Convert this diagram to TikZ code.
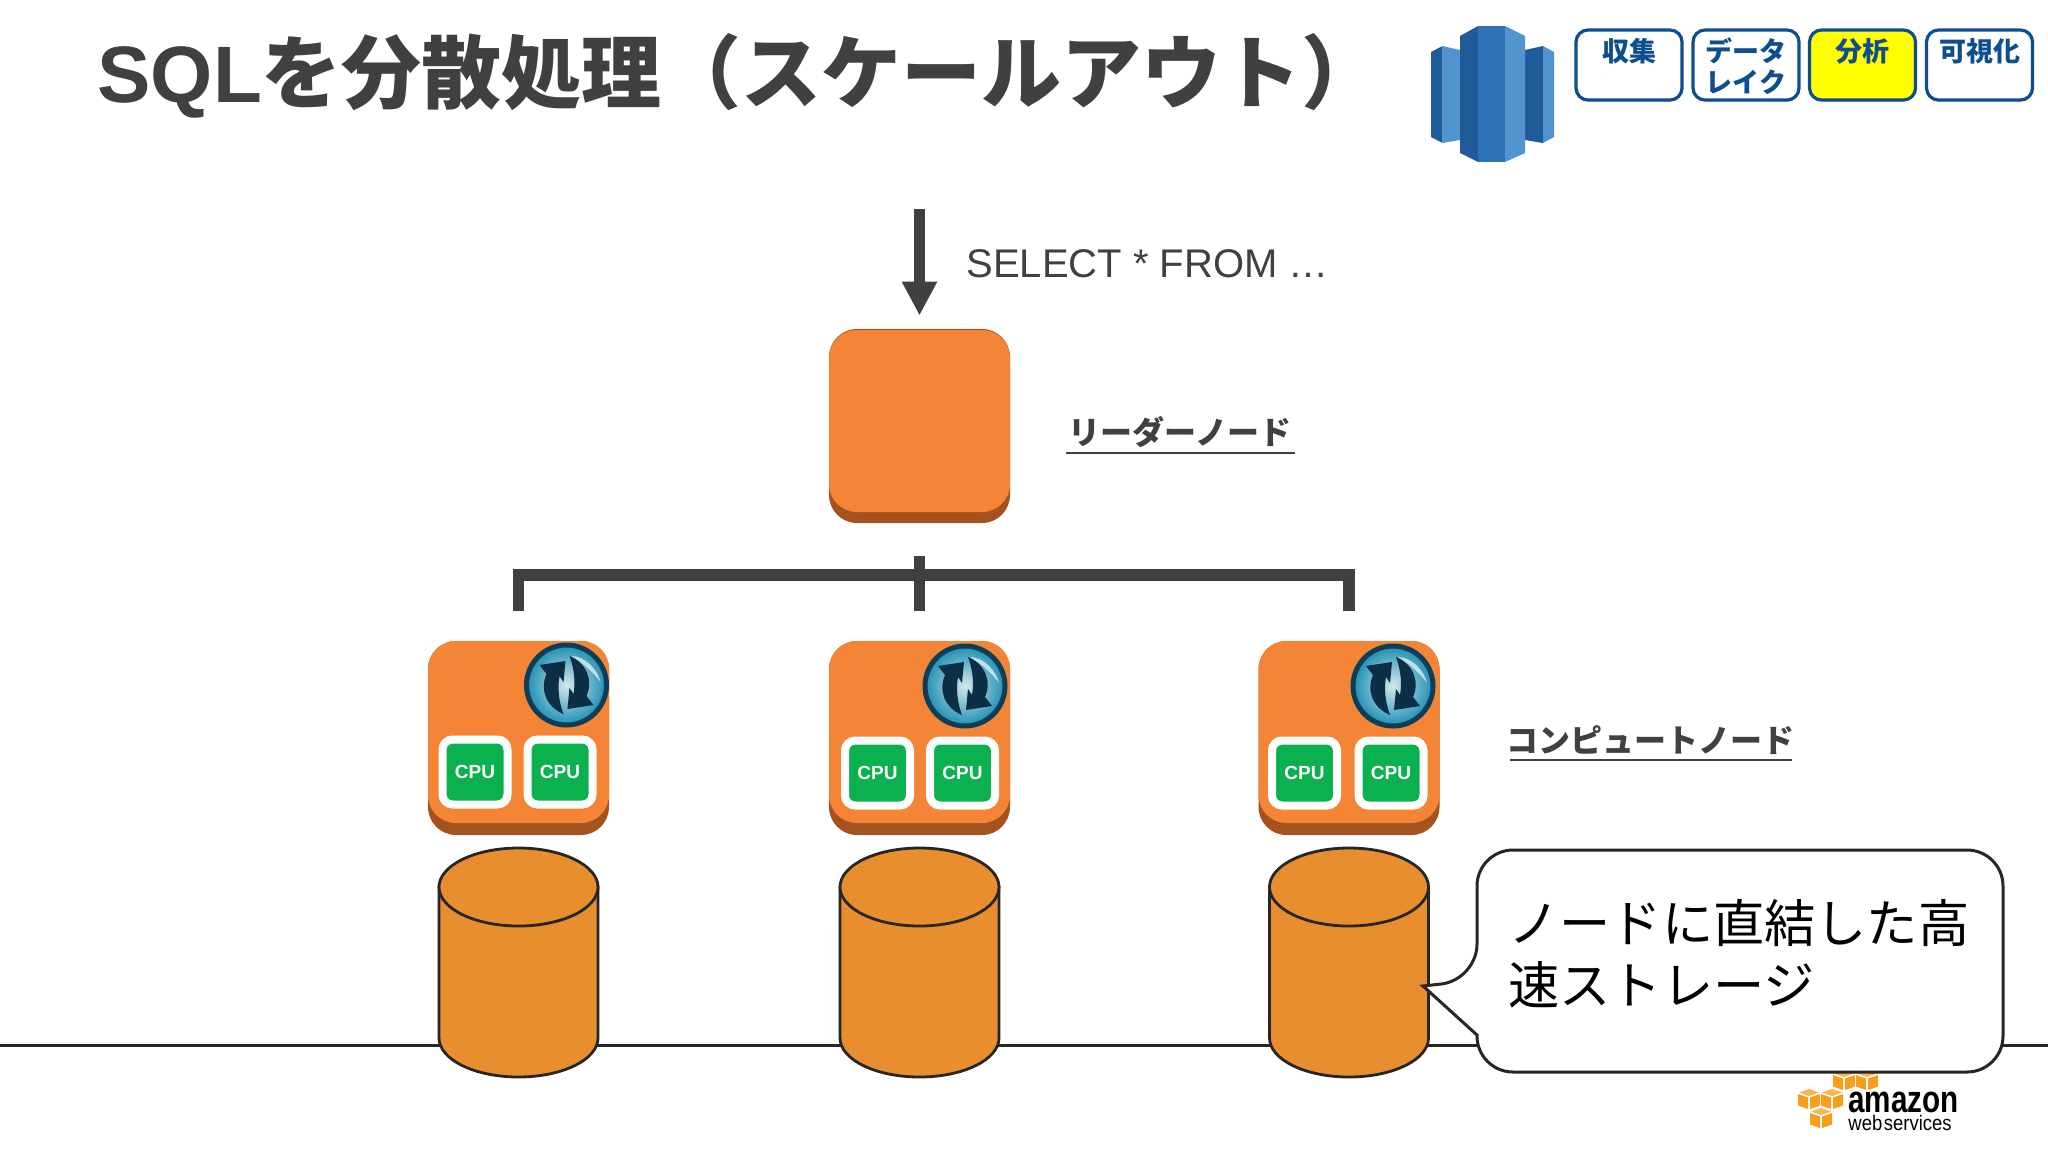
\documentclass[tikz,border=0pt]{standalone}
\usepackage{fontspec}
\setmainfont{Liberation Sans}
\newfontfamily\jp{Noto Sans CJK JP}
\newfontfamily\awsfont[FakeStretch=0.78]{Liberation Sans}
\newfontfamily\awsthin[FakeStretch=0.88]{Liberation Sans}
\usetikzlibrary{arrows.meta,shapes.geometric,shadows,positioning}
\definecolor{inkgrey}{HTML}{404040}
\definecolor{ecface}{HTML}{F58536}
\definecolor{ecbase}{HTML}{A6521F}
\definecolor{cpugreen}{HTML}{0BB04F}
\definecolor{diskfill}{HTML}{E98E2E}
\definecolor{diskline}{HTML}{262626}
\definecolor{tabblue}{HTML}{0F4E8E}
\definecolor{tabyellow}{RGB}{255,255,0}
\definecolor{rsdark}{HTML}{205B99}
\definecolor{rsmid}{HTML}{2E73B8}
\definecolor{rslight}{HTML}{5294CF}
\definecolor{awsorange}{HTML}{F99D1C}
\definecolor{awslight}{HTML}{FDB44B}
\definecolor{syncdark}{HTML}{0D2F45}
\definecolor{syncrim}{HTML}{0C3F57}
\definecolor{syncouter}{HTML}{1F8FB5}
\definecolor{syncinner}{HTML}{D2E9E8}
\tikzset{
  ecbottom/.style={fill=ecbase, rounded corners=14pt, minimum width=90.5pt, minimum height=97pt, inner sep=0},
  ectop/.style={fill=ecface, rounded corners=14pt, minimum width=90.5pt, minimum height=91pt, inner sep=0},
  cpu/.style={fill=cpugreen, draw=white, line width=4pt, rounded corners=5pt, minimum size=32.5pt, inner sep=0,
    text=white, font=\bfseries\fontsize{9.5}{10}\selectfont},
  diskbody/.style={draw=diskline, line width=1.4pt, fill=diskfill},
  disktop/.style={ellipse, draw=diskline, line width=1.4pt, fill=diskfill, minimum width=79.5pt, minimum height=39pt, inner sep=0},
  badge/.style={circle, draw=syncrim, line width=2.5pt, minimum size=40pt, inner sep=0,
    inner color=syncinner, outer color=syncouter},
  tab/.style={draw=tabblue, line width=1.6pt, fill=white, rounded corners=6pt, minimum width=53pt, minimum height=35pt,
    inner sep=0, drop shadow={shadow xshift=0pt, shadow yshift=-1pt, opacity=0.3}},
  tabtext/.style={text=tabblue, font=\jp\bfseries\fontsize{13.5}{15.5}\selectfont, inner sep=0},
  label/.style={text=inkgrey, font=\jp\bfseries\fontsize{16}{18}\selectfont, inner sep=0},
  underl/.style={draw=inkgrey, line width=1.1pt},
  busline/.style={draw=inkgrey, line width=5.7pt},
  sync/.pic={
    \foreach \r in {0,180} {
      \fill[syncdark, rotate=\r] (-3,29) .. controls (-20,22) and (-27,5) .. (-20,-11) -- (-27,-20) -- (-1,-24)
        -- (-3,-3) -- (-7,-9) .. controls (-9,2) and (-8,16) .. (-3,29) -- cycle;
    }
    \fill[white, opacity=0.65] (5,-29) .. controls (18,-29) and (31,-16) .. (34,-3) .. controls (26,-14) and (15,-23) .. (5,-29) -- cycle;
  },
  awscube/.pic={
    \fill[awslight] (0,-10) -- (10,-6.5) -- (0,-3) -- (-10,-6.5) -- cycle;
    \fill[awsorange] (-11,-5) -- (-1,-1.5) -- (-1,10) -- (-11,6.5) -- cycle;
    \fill[awsorange] (11,-5) -- (1,-1.5) -- (1,10) -- (11,6.5) -- cycle;
  }
}

\begin{document}
\begin{tikzpicture}[x=0.5pt, y=-0.5pt]
    \useasboundingbox (0,0) rectangle (2048,1152);
    \fill[white] (0,0) rectangle (2048,1152);

    % title
    \node[anchor=west, inner sep=0, text=inkgrey, font=\jp\bfseries\fontsize{40}{44}\selectfont] (title) at (97,76)
        {{\rmfamily\bfseries SQL}を分散処理（スケールアウト）};

    % redshift icon
    \fill[rsdark] (1431,52) -- (1442.5,46) -- (1442.5,143) -- (1431,137) -- cycle;
    \fill[rslight] (1442.5,46) -- (1460,50) -- (1460,140) -- (1442.5,143) -- cycle;
    \fill[rsdark] (1525,50) -- (1543,46) -- (1543,143) -- (1525,140) -- cycle;
    \fill[rslight] (1543,46) -- (1554,52) -- (1554,137) -- (1543,143) -- cycle;
    \fill[rsdark] (1460,36) -- (1478,26) -- (1478,162) -- (1460,153) -- cycle;
    \fill[rsmid] (1478,26) -- (1505,26) -- (1505,162) -- (1478,162) -- cycle;
    \fill[rslight] (1505,26) -- (1525,36) -- (1525,153) -- (1505,162) -- cycle;

    % tabs
    \node[tab] (tcollect) at (1629,65) {};
    \node[tab] (tlake) at (1746,65) {};
    \node[tab, fill=tabyellow] (tanalyze) at (1862.5,65) {};
    \node[tab] (tview) at (1979.5,65) {};
    \node[tabtext] (lcollect) at (1629,51) {収集};
    \node[tabtext, align=center] (llake) at (1746,66) {データ\\レイク};
    \node[tabtext] (lanalyze) at (1862.5,51) {分析};
    \node[tabtext] (lview) at (1979.5,51) {可視化};

    % floor
    \coordinate (fl) at (0,1045);
    \coordinate (fr) at (2048,1045);
    \draw[diskline, line width=1.5pt] (fl) -- (fr);

    % leader
    \node[ecbottom] (leader) at (919.5,426) {};
    \node[ectop] (leadertop) at (919.5,421) {};
    \coordinate (sql) at (919.5,209);
    \draw[inkgrey, line width=5.6pt, -{Triangle[width=16.5pt, length=17pt]}, shorten >=6.5pt] (sql) -- (leader.north);
    \node[anchor=west, inner sep=0, text=inkgrey, font=\fontsize{20}{24}\selectfont] (query) at (966,264) {SELECT * FROM …};
    \node[label] (lleader) at (1180,432) {リーダーノード};
    \coordinate (ula) at (1066,453);
    \coordinate (ulb) at (1295,453);
    \draw[underl] (ula) -- (ulb);

    % compute 1
    \begin{scope}[xshift=259.25pt]
    \node[ecbottom] (c1) at (0,738) {};
    \node[ectop] (c1top) at (0,732) {};
    \node[badge] (s1) at (48,685) {};
    \pic at (s1.center) {sync};
    \node[cpu] (c1a) at (-43.5,772) {CPU};
    \node[cpu] (c1b) at (41.5,772) {CPU};
    \draw[diskbody] (-79.5,887) -- (-79.5,1038) arc[start angle=180, end angle=0, x radius=79.5, y radius=39] -- (79.5,887) -- cycle;
    \node[disktop] (d1) at (0,887) {};
    \end{scope}

    % compute 2
    \begin{scope}[xshift=459.75pt]
    \node[ecbottom] (c2) at (0,738) {};
    \node[ectop] (c2top) at (0,732) {};
    \node[badge] (s2) at (45.5,686) {};
    \pic at (s2.center) {sync};
    \node[cpu] (c2a) at (-42,773) {CPU};
    \node[cpu] (c2b) at (43,773) {CPU};
    \draw[diskbody] (-79.5,887) -- (-79.5,1038) arc[start angle=180, end angle=0, x radius=79.5, y radius=39] -- (79.5,887) -- cycle;
    \node[disktop] (d2) at (0,887) {};
    \end{scope}

    % compute 3
    \begin{scope}[xshift=674.5pt]
    \node[ecbottom] (c3) at (0,738) {};
    \node[ectop] (c3top) at (0,732) {};
    \node[badge] (s3) at (44,686) {};
    \pic at (s3.center) {sync};
    \node[cpu] (c3a) at (-44.5,773) {CPU};
    \node[cpu] (c3b) at (42,773) {CPU};
    \draw[diskbody] (-79.5,887) -- (-79.5,1038) arc[start angle=180, end angle=0, x radius=79.5, y radius=39] -- (79.5,887) -- cycle;
    \node[disktop] (d3) at (0,887) {};
    \end{scope}

    % bus
    \coordinate (busl) at (518.5,575);
    \coordinate (busr) at (1349,575);
    \draw[busline, shorten <=15pt, shorten >=15pt, miter limit=10] (c1.north) -- (busl) -- (busr) -- (c3.north);
    \draw[busline, shorten <=16.5pt, shorten >=15pt] (leader.south) -- (c2.north);

    \node[label] (lcompute) at (1650,740) {コンピュートノード};
    \coordinate (ulc) at (1510,760);
    \coordinate (uld) at (1792,760);
    \draw[underl] (ulc) -- (uld);

    % aws logo
    \pic at (1844,1080) {awscube};
    \pic at (1867,1080) {awscube};
    \pic at (1809,1099) {awscube};
    \pic at (1832,1099) {awscube};
    \pic at (1821,1118) {awscube};
    \node[anchor=west, inner sep=0, font=\awsfont\bfseries\fontsize{19}{20}\selectfont] (amazon) at (1848,1102) {amazon};
    \node[anchor=west, inner sep=0, font=\awsthin\fontsize{10.5}{11}\selectfont] (webservices) at (1848,1123) {web\hspace{0.8pt}services};

    % callout
    \coordinate (tip) at (1423,986);
    \draw[fill=white, draw=diskline, line width=1.5pt] (1477,980) -- (tip) -- (1477,1035)
        [rounded corners=18pt] -- (1477,1072) -- (2003,1072) -- (2003,850) -- (1477,850) -- cycle;
    \node[anchor=west, inner sep=0, align=left, text=black, font=\jp\fontsize{25.6}{31}\selectfont] (note) at (1508,954)
        {ノードに直結した高\\速ストレージ};
\end{tikzpicture}
\end{document}
